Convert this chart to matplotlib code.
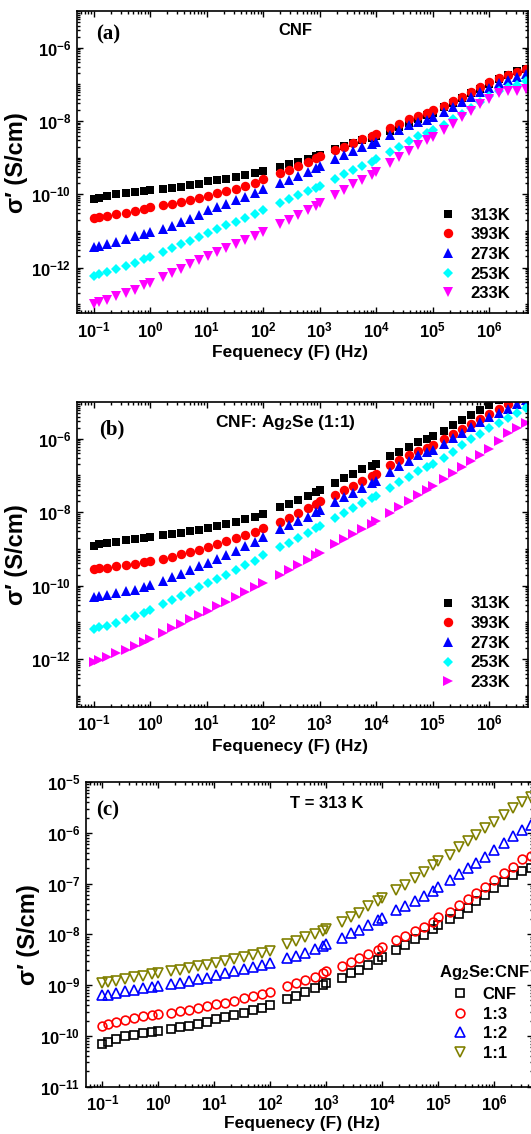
import numpy as np
import matplotlib
matplotlib.use("Agg")
import matplotlib.pyplot as plt
from matplotlib.ticker import FixedLocator, LogLocator, FuncFormatter, NullFormatter

plt.rcParams['font.family'] = ['Liberation Sans', 'DejaVu Sans']
plt.rcParams['font.weight'] = 'bold'
plt.rcParams['mathtext.fontset'] = 'custom'
plt.rcParams['mathtext.rm'] = 'Liberation Sans:bold'
plt.rcParams['mathtext.it'] = 'Liberation Sans:bold'
plt.rcParams['mathtext.bf'] = 'Liberation Sans:bold'
plt.rcParams['mathtext.sf'] = 'Liberation Sans:bold'

# ---------------- data (log10 values) ----------------
freq_log = [-1.0, -0.9, -0.76, -0.6, -0.43, -0.27, -0.11, 0.0,
            0.23, 0.39, 0.55, 0.71, 0.87, 1.03, 1.19, 1.35, 1.52, 1.68, 1.85, 2.0,
            2.3, 2.46, 2.62, 2.79, 2.93, 3.0,
            3.27, 3.43, 3.59, 3.75, 3.92, 4.0,
            4.25, 4.41, 4.58, 4.74, 4.9, 5.0,
            5.2, 5.36, 5.52, 5.68, 5.84, 6.0, 6.18, 6.33, 6.49, 6.65]

temps = ['313K', '393K', '273K', '253K', '233K']

# panel (a): CNF
a_313 = [-10.14, -10.10, -10.06, -10.00, -9.96, -9.93, -9.90, -9.88,
         -9.85, -9.82, -9.79, -9.75, -9.71, -9.65, -9.62, -9.58, -9.53, -9.48, -9.42, -9.36,
         -9.25, -9.18, -9.11, -9.03, -8.96, -8.92,
         -8.77, -8.68, -8.60, -8.53, -8.46, -8.42,
         -8.27, -8.17, -8.05, -7.95, -7.85, -7.79,
         -7.62, -7.50, -7.38, -7.25, -7.12, -6.99, -6.86, -6.75, -6.64, -6.57]
a_393 = [-10.64, -10.62, -10.59, -10.55, -10.50, -10.45, -10.40, -10.35,
         -10.30, -10.26, -10.22, -10.16, -10.10, -10.05, -9.98, -9.92, -9.85, -9.77, -9.68, -9.59,
         -9.43, -9.34, -9.24, -9.13, -9.02, -8.96,
         -8.80, -8.70, -8.60, -8.50, -8.40, -8.36,
         -8.20, -8.08, -7.96, -7.86, -7.79, -7.70,
         -7.58, -7.46, -7.34, -7.21, -7.08, -6.95, -6.82, -6.74, -6.66, -6.58]
a_273 = [-11.45, -11.41, -11.36, -11.30, -11.23, -11.15, -11.08, -11.02,
         -10.95, -10.87, -10.77, -10.68, -10.58, -10.43, -10.35, -10.26, -10.17, -10.08, -9.97, -9.87,
         -9.70, -9.60, -9.50, -9.38, -9.28, -9.22,
         -9.04, -8.92, -8.82, -8.72, -8.62, -8.57,
         -8.38, -8.25, -8.12, -8.04, -7.98, -7.90,
         -7.76, -7.62, -7.48, -7.35, -7.22, -7.10, -6.97, -6.88, -6.80, -6.72]
a_253 = [-12.23, -12.19, -12.13, -12.05, -11.96, -11.87, -11.77, -11.70,
         -11.58, -11.48, -11.37, -11.27, -11.17, -11.07, -10.96, -10.85, -10.75, -10.65, -10.54, -10.44,
         -10.25, -10.14, -10.03, -9.92, -9.82, -9.77,
         -9.58, -9.46, -9.34, -9.22, -9.12, -9.05,
         -8.85, -8.70, -8.55, -8.42, -8.32, -8.25,
         -8.10, -7.95, -7.80, -7.64, -7.48, -7.33, -7.18, -7.08, -7.03, -6.92]
a_233 = [-13.00, -12.95, -12.88, -12.79, -12.70, -12.60, -12.48, -12.41,
         -12.27, -12.15, -12.03, -11.91, -11.80, -11.68, -11.57, -11.46, -11.35, -11.24, -11.13, -11.03,
         -10.82, -10.70, -10.58, -10.44, -10.32, -10.25,
         -10.02, -9.88, -9.73, -9.60, -9.47, -9.40,
         -9.15, -8.98, -8.82, -8.66, -8.52, -8.45,
         -8.25, -8.07, -7.90, -7.72, -7.55, -7.40, -7.25, -7.18, -7.17, -7.12]

# panel (b): CNF:Ag2Se (1:1)
b_313 = [-8.91, -8.87, -8.84, -8.80, -8.77, -8.74, -8.70, -8.67,
         -8.63, -8.60, -8.56, -8.52, -8.48, -8.43, -8.38, -8.33, -8.27, -8.20, -8.12, -8.04,
         -7.87, -7.78, -7.68, -7.55, -7.44, -7.40,
         -7.20, -7.07, -6.95, -6.83, -6.75, -6.70,
         -6.48, -6.35, -6.22, -6.10, -6.00, -5.93,
         -5.78, -5.64, -5.50, -5.36, -5.22, -5.08, -4.95, -4.82, -4.70, -4.58]
b_393 = [-9.55, -9.53, -9.51, -9.47, -9.44, -9.40, -9.36, -9.32,
         -9.27, -9.22, -9.15, -9.09, -9.02, -8.95, -8.86, -8.78, -8.70, -8.62, -8.53, -8.44,
         -8.26, -8.15, -8.03, -7.90, -7.78, -7.70,
         -7.52, -7.40, -7.28, -7.15, -7.02, -6.95,
         -6.72, -6.58, -6.45, -6.33, -6.24, -6.17,
         -6.01, -5.87, -5.74, -5.60, -5.46, -5.33, -5.18, -5.05, -4.92, -4.80]
b_273 = [-10.30, -10.28, -10.25, -10.21, -10.16, -10.11, -10.05, -9.99,
         -9.88, -9.78, -9.68, -9.58, -9.48, -9.38, -9.27, -9.16, -9.05, -8.93, -8.80, -8.67,
         -8.47, -8.36, -8.24, -8.12, -8.00, -7.94,
         -7.72, -7.60, -7.47, -7.34, -7.20, -7.15,
         -6.90, -6.75, -6.60, -6.45, -6.35, -6.30,
         -6.15, -5.99, -5.84, -5.68, -5.54, -5.42, -5.29, -5.18, -5.06, -4.95]
b_253 = [-11.18, -11.14, -11.09, -11.01, -10.92, -10.83, -10.74, -10.66,
         -10.50, -10.40, -10.28, -10.17, -10.05, -9.93, -9.81, -9.70, -9.57, -9.45, -9.32, -9.18,
         -8.95, -8.83, -8.70, -8.56, -8.44, -8.38,
         -8.15, -8.02, -7.88, -7.75, -7.62, -7.57,
         -7.33, -7.18, -7.03, -6.88, -6.76, -6.70,
         -6.52, -6.35, -6.18, -6.02, -5.86, -5.71, -5.56, -5.43, -5.30, -5.16]
b_233 = [-12.07, -12.02, -11.94, -11.85, -11.75, -11.65, -11.54, -11.46,
         -11.28, -11.16, -11.04, -10.92, -10.80, -10.68, -10.56, -10.44, -10.31, -10.18, -10.05, -9.93,
         -9.70, -9.57, -9.44, -9.30, -9.18, -9.10,
         -8.88, -8.74, -8.60, -8.46, -8.32, -8.25,
         -8.02, -7.86, -7.70, -7.54, -7.39, -7.30,
         -7.10, -6.93, -6.77, -6.60, -6.44, -6.28, -6.05, -5.85, -5.72, -5.57]

# panel (c): T = 313 K, Ag2Se:CNF ratios
ratios = ['CNF', '1:3', '1:2', '1:1']
c_cnf = [-10.16, -10.11, -10.07, -10.01, -9.98, -9.95, -9.92, -9.90,
         -9.87, -9.83, -9.80, -9.77, -9.72, -9.67, -9.63, -9.58, -9.54, -9.48, -9.45, -9.39,
         -9.28, -9.21, -9.14, -9.06, -9.00, -8.96,
         -8.85, -8.77, -8.70, -8.60, -8.50, -8.45,
         -8.30, -8.20, -8.10, -8.01, -7.90, -7.82,
         -7.70, -7.59, -7.48, -7.35, -7.22, -7.09, -6.96, -6.84, -6.76, -6.70]
c_13 = [-9.80, -9.77, -9.72, -9.68, -9.64, -9.61, -9.59, -9.57,
        -9.54, -9.51, -9.48, -9.45, -9.41, -9.38, -9.35, -9.31, -9.26, -9.22, -9.18, -9.13,
        -9.01, -8.96, -8.90, -8.84, -8.77, -8.73,
        -8.63, -8.55, -8.47, -8.39, -8.30, -8.25,
        -8.12, -8.03, -7.94, -7.85, -7.75, -7.66,
        -7.55, -7.42, -7.30, -7.18, -7.06, -6.92, -6.80, -6.67, -6.52, -6.45]
c_12 = [-9.20, -9.19, -9.16, -9.12, -9.09, -9.06, -9.03, -9.01,
        -8.98, -8.95, -8.92, -8.88, -8.85, -8.81, -8.77, -8.73, -8.69, -8.64, -8.61, -8.57,
        -8.47, -8.42, -8.36, -8.29, -8.23, -8.19,
        -8.07, -7.98, -7.91, -7.81, -7.71, -7.68,
        -7.53, -7.44, -7.35, -7.24, -7.14, -7.06,
        -6.93, -6.82, -6.70, -6.60, -6.47, -6.34, -6.20, -6.07, -5.95, -5.85]
c_11 = [-8.96, -8.94, -8.91, -8.87, -8.84, -8.82, -8.78, -8.76,
        -8.72, -8.70, -8.67, -8.63, -8.60, -8.56, -8.53, -8.49, -8.45, -8.40, -8.36, -8.32,
        -8.19, -8.13, -8.06, -7.99, -7.93, -7.89,
        -7.75, -7.66, -7.57, -7.45, -7.35, -7.29,
        -7.12, -7.02, -6.89, -6.77, -6.63, -6.55,
        -6.43, -6.28, -6.16, -6.04, -5.91, -5.78, -5.64, -5.51, -5.40, -5.30]

freq = 10.0 ** np.array(freq_log)

# ---------------- figure ----------------
fig = plt.figure(figsize=(5.31, 11.34), dpi=100)
ax_a = fig.add_axes([0.1444, 0.7237, 0.850, 0.2666])
ax_b = fig.add_axes([0.1444, 0.3768, 0.850, 0.2687])
ax_c = fig.add_axes([0.1614, 0.0417, 0.8424, 0.2687])

fmt = FuncFormatter(lambda v, p: r'$\mathbf{10^{%d}}$' % int(round(np.log10(v))))

def style_axes(ax, ymin, ymax, ymajors):
    ax.set_xscale('log')
    ax.set_yscale('log')
    ax.set_xlim(10 ** -1.3, 10 ** 6.69)
    ax.set_ylim(ymin, ymax)
    ax.xaxis.set_major_locator(FixedLocator([10.0 ** k for k in range(-1, 7)]))
    ax.xaxis.set_minor_locator(LogLocator(base=10, subs=np.arange(2, 10), numticks=50))
    ax.yaxis.set_major_locator(FixedLocator(ymajors))
    ax.yaxis.set_minor_locator(LogLocator(base=10, subs=np.arange(1, 10), numticks=50))
    ax.xaxis.set_major_formatter(fmt)
    ax.yaxis.set_major_formatter(fmt)
    ax.xaxis.set_minor_formatter(NullFormatter())
    ax.yaxis.set_minor_formatter(NullFormatter())
    ax.tick_params(which='both', direction='in', top=True, right=True, width=1.0)
    ax.tick_params(which='major', length=4.5, labelsize=12)
    ax.tick_params(which='minor', length=2.5)
    ax.tick_params(axis='x', which='major', pad=5)
    ax.tick_params(axis='y', which='major', pad=4)
    for s in ax.spines.values():
        s.set_linewidth(1.2)
    ax.set_xlabel('Fequenecy (F) (Hz)', fontsize=12.5, fontweight='bold')
    ax.set_ylabel('σ′ (S/cm)', fontsize=17, fontweight='bold')

leg_kw = dict(frameon=False, handlelength=1.0, handletextpad=0.85, labelspacing=0.28,
              borderpad=0, borderaxespad=0, prop={'weight': 'bold', 'size': 12})

# panel (a)
markers_a = ['s', 'o', '^', 'D', 'v']
colors_t = ['#000000', '#ff0000', '#0000ff', '#00ffff', '#ff00ff']
sizes_a = [5.6, 6.8, 7.2, 5.6, 7.2]
for lab, vals, m, c, ms in zip(temps, [a_313, a_393, a_273, a_253, a_233], markers_a, colors_t, sizes_a):
    ax_a.plot(freq, 10.0 ** np.array(vals), linestyle='none', marker=m, color=c,
              markersize=ms, markeredgewidth=0, label=lab)
style_axes(ax_a, 10 ** -13.25, 1e-5, [1e-12, 1e-10, 1e-8, 1e-6])
ax_a.text(0.484, 0.934, 'CNF', transform=ax_a.transAxes, ha='center', va='center',
          fontsize=12, fontweight='bold')
ax_a.text(0.07, 0.921, '(a)', transform=ax_a.transAxes, ha='center', va='center',
          fontsize=15, fontweight='bold', family=['Liberation Serif', 'DejaVu Serif'])
ax_a.legend(loc='upper left', bbox_to_anchor=(0.805, 0.350), **leg_kw)

# panel (b)
markers_b = ['s', 'o', '^', 'D', '>']
for lab, vals, m, c, ms in zip(temps, [b_313, b_393, b_273, b_253, b_233], markers_b, colors_t, sizes_a):
    ax_b.plot(freq, 10.0 ** np.array(vals), linestyle='none', marker=m, color=c,
              markersize=ms, markeredgewidth=0, label=lab)
style_axes(ax_b, 10 ** -13.3, 1e-5, [1e-12, 1e-10, 1e-8, 1e-6])
ax_b.text(0.462, 0.934, r'CNF: Ag$_\mathbf{2}$Se (1:1)', transform=ax_b.transAxes,
          ha='center', va='center', fontsize=12.5, fontweight='bold')
ax_b.text(0.078, 0.911, '(b)', transform=ax_b.transAxes, ha='center', va='center',
          fontsize=15, fontweight='bold', family=['Liberation Serif', 'DejaVu Serif'])
ax_b.legend(loc='upper left', bbox_to_anchor=(0.805, 0.362), **leg_kw)

# panel (c)
markers_c = ['s', 'o', '^', 'v']
colors_c = ['#000000', '#ff0000', '#0000ff', '#808000']
sizes_c = [5.2, 6.3, 7.0, 7.0]
for lab, vals, m, c, ms in zip(ratios, [c_cnf, c_13, c_12, c_11], markers_c, colors_c, sizes_c):
    ax_c.plot(freq, 10.0 ** np.array(vals), linestyle='none', marker=m, markerfacecolor='none',
              markeredgecolor=c, markeredgewidth=1.2, markersize=ms, label=lab)
style_axes(ax_c, 1e-11, 1e-5, [10.0 ** k for k in range(-11, -4)])
ax_c.yaxis.set_minor_locator(LogLocator(base=10, subs=np.arange(2, 10), numticks=50))
ax_c.text(0.539, 0.931, 'T = 313 K', transform=ax_c.transAxes, ha='center', va='center',
          fontsize=12, fontweight='bold')
ax_c.text(0.05, 0.908, '(c)', transform=ax_c.transAxes, ha='center', va='center',
          fontsize=15, fontweight='bold', family=['Liberation Serif', 'DejaVu Serif'])
ax_c.legend(loc='upper left', bbox_to_anchor=(0.79, 0.405), title=r'Ag$_\mathbf{2}$Se:CNF',
            title_fontproperties={'weight': 'bold', 'size': 12}, **leg_kw)

for ax, lx, ly in [(ax_a, 0.473, -0.105), (ax_b, 0.473, -0.105), (ax_c, 0.483, -0.096)]:
    ax.xaxis.set_label_coords(lx, ly)
ax_a.yaxis.set_label_coords(-0.107, 0.5)
ax_b.yaxis.set_label_coords(-0.107, 0.5)
ax_c.yaxis.set_label_coords(-0.103, 0.5)

fig.savefig('out.png', dpi=100)
